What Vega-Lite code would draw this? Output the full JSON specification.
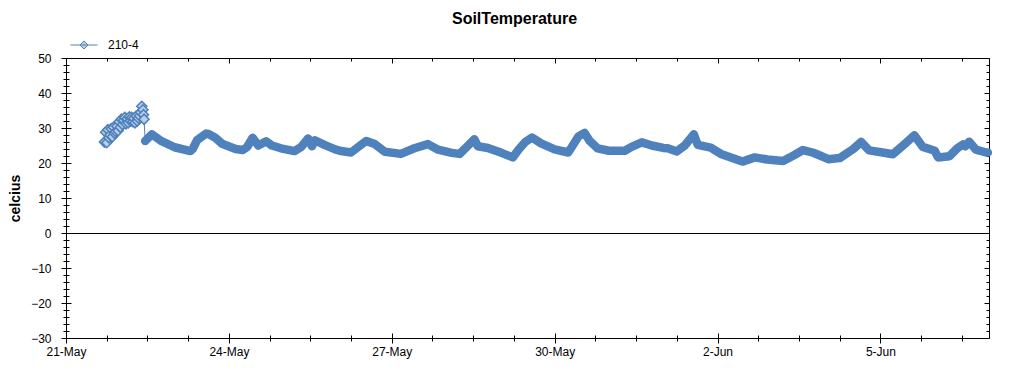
{
  "$schema": "https://vega.github.io/schema/vega-lite/v6.json",
  "width": 923,
  "height": 280,
  "autosize": {"type": "none"},
  "padding": {"left": 66, "top": 58, "right": 35, "bottom": 37},
  "background": "white",
  "title": {"text": "SoilTemperature", "font": "Liberation Sans", "fontSize": 16, "fontWeight": "bold", "color": "#000", "anchor": "middle", "frame": "group", "dx": -13, "offset": 4},
  "config": {
    "view": {"stroke": "#000", "strokeWidth": 1},
    "axis": {"labelFont": "Liberation Sans", "titleFont": "Liberation Sans", "labelColor": "#000", "tickColor": "#000", "titleColor": "#000", "grid": false, "domain": false, "title": null}
  },
  "data": {"values": [
    {"time": "2016-05-21T17:00", "temp": 26.0},
    {"time": "2016-05-21T17:30", "temp": 28.8},
    {"time": "2016-05-21T18:00", "temp": 25.8},
    {"time": "2016-05-21T18:30", "temp": 29.5},
    {"time": "2016-05-21T19:00", "temp": 27.2},
    {"time": "2016-05-21T19:30", "temp": 28.0},
    {"time": "2016-05-21T20:00", "temp": 29.8},
    {"time": "2016-05-21T20:30", "temp": 27.5},
    {"time": "2016-05-21T21:00", "temp": 30.2},
    {"time": "2016-05-21T21:30", "temp": 28.5},
    {"time": "2016-05-21T22:00", "temp": 29.0},
    {"time": "2016-05-21T22:30", "temp": 30.5},
    {"time": "2016-05-21T23:00", "temp": 29.2},
    {"time": "2016-05-21T23:30", "temp": 31.8},
    {"time": "2016-05-22T00:00", "temp": 30.2},
    {"time": "2016-05-22T00:30", "temp": 32.5},
    {"time": "2016-05-22T01:00", "temp": 31.0},
    {"time": "2016-05-22T01:30", "temp": 32.2},
    {"time": "2016-05-22T02:00", "temp": 33.0},
    {"time": "2016-05-22T02:30", "temp": 31.2},
    {"time": "2016-05-22T03:00", "temp": 32.6},
    {"time": "2016-05-22T03:30", "temp": 31.5},
    {"time": "2016-05-22T04:00", "temp": 33.2},
    {"time": "2016-05-22T04:30", "temp": 32.0},
    {"time": "2016-05-22T05:00", "temp": 33.0},
    {"time": "2016-05-22T05:30", "temp": 31.8},
    {"time": "2016-05-22T06:00", "temp": 32.8},
    {"time": "2016-05-22T06:30", "temp": 31.5},
    {"time": "2016-05-22T07:00", "temp": 33.4},
    {"time": "2016-05-22T07:30", "temp": 32.0},
    {"time": "2016-05-22T08:00", "temp": 32.8},
    {"time": "2016-05-22T08:30", "temp": 33.5},
    {"time": "2016-05-22T09:00", "temp": 34.5},
    {"time": "2016-05-22T09:30", "temp": 36.2},
    {"time": "2016-05-22T10:00", "temp": 35.2},
    {"time": "2016-05-22T10:15", "temp": 33.8},
    {"time": "2016-05-22T10:30", "temp": 32.5},
    {"time": "2016-05-22T11:00", "temp": 26.3},
    {"time": "2016-05-22T14:00", "temp": 28.2},
    {"time": "2016-05-22T18:00", "temp": 26.3},
    {"time": "2016-05-23T00:00", "temp": 24.5},
    {"time": "2016-05-23T07:00", "temp": 23.4},
    {"time": "2016-05-23T08:00", "temp": 24.0},
    {"time": "2016-05-23T10:00", "temp": 26.6},
    {"time": "2016-05-23T14:00", "temp": 28.4},
    {"time": "2016-05-23T15:00", "temp": 28.3},
    {"time": "2016-05-23T18:00", "temp": 27.2},
    {"time": "2016-05-23T21:00", "temp": 25.5},
    {"time": "2016-05-24T03:00", "temp": 24.0},
    {"time": "2016-05-24T06:00", "temp": 23.7},
    {"time": "2016-05-24T08:00", "temp": 24.5},
    {"time": "2016-05-24T10:30", "temp": 27.2},
    {"time": "2016-05-24T13:00", "temp": 25.0},
    {"time": "2016-05-24T16:30", "temp": 26.2},
    {"time": "2016-05-24T19:00", "temp": 25.0},
    {"time": "2016-05-24T23:00", "temp": 24.2},
    {"time": "2016-05-25T05:00", "temp": 23.4},
    {"time": "2016-05-25T08:00", "temp": 24.6},
    {"time": "2016-05-25T11:00", "temp": 27.0},
    {"time": "2016-05-25T12:45", "temp": 24.8},
    {"time": "2016-05-25T14:00", "temp": 26.5},
    {"time": "2016-05-25T18:30", "temp": 25.1},
    {"time": "2016-05-25T23:00", "temp": 23.9},
    {"time": "2016-05-26T01:00", "temp": 23.5},
    {"time": "2016-05-26T06:00", "temp": 23.0},
    {"time": "2016-05-26T09:00", "temp": 24.5},
    {"time": "2016-05-26T12:45", "temp": 26.3},
    {"time": "2016-05-26T16:30", "temp": 25.4},
    {"time": "2016-05-26T21:00", "temp": 23.2},
    {"time": "2016-05-27T04:00", "temp": 22.6},
    {"time": "2016-05-27T10:00", "temp": 24.2},
    {"time": "2016-05-27T16:00", "temp": 25.4},
    {"time": "2016-05-27T20:30", "temp": 23.8},
    {"time": "2016-05-28T02:30", "temp": 22.9},
    {"time": "2016-05-28T06:00", "temp": 22.6},
    {"time": "2016-05-28T09:00", "temp": 24.5},
    {"time": "2016-05-28T12:30", "temp": 26.8},
    {"time": "2016-05-28T14:00", "temp": 24.8},
    {"time": "2016-05-28T18:30", "temp": 24.3},
    {"time": "2016-05-29T00:30", "temp": 22.9},
    {"time": "2016-05-29T05:30", "temp": 21.6},
    {"time": "2016-05-29T08:00", "temp": 23.8},
    {"time": "2016-05-29T11:00", "temp": 26.0},
    {"time": "2016-05-29T14:00", "temp": 27.3},
    {"time": "2016-05-29T18:00", "temp": 25.6},
    {"time": "2016-05-30T00:00", "temp": 23.9},
    {"time": "2016-05-30T06:00", "temp": 23.0},
    {"time": "2016-05-30T07:30", "temp": 24.5},
    {"time": "2016-05-30T10:30", "temp": 27.6},
    {"time": "2016-05-30T13:15", "temp": 28.6},
    {"time": "2016-05-30T15:30", "temp": 26.3},
    {"time": "2016-05-30T19:00", "temp": 24.2},
    {"time": "2016-05-31T00:00", "temp": 23.5},
    {"time": "2016-05-31T07:00", "temp": 23.5},
    {"time": "2016-05-31T10:00", "temp": 24.6},
    {"time": "2016-05-31T14:30", "temp": 25.9},
    {"time": "2016-05-31T19:00", "temp": 25.0},
    {"time": "2016-06-01T00:00", "temp": 24.3},
    {"time": "2016-06-01T02:00", "temp": 24.2},
    {"time": "2016-06-01T06:00", "temp": 23.3},
    {"time": "2016-06-01T09:30", "temp": 25.0},
    {"time": "2016-06-01T13:30", "temp": 28.2},
    {"time": "2016-06-01T15:15", "temp": 25.2},
    {"time": "2016-06-01T21:00", "temp": 24.4},
    {"time": "2016-06-02T01:30", "temp": 22.6},
    {"time": "2016-06-02T07:30", "temp": 21.2},
    {"time": "2016-06-02T11:00", "temp": 20.4},
    {"time": "2016-06-02T16:30", "temp": 21.6},
    {"time": "2016-06-02T22:00", "temp": 21.0},
    {"time": "2016-06-03T05:00", "temp": 20.6},
    {"time": "2016-06-03T10:00", "temp": 22.3},
    {"time": "2016-06-03T13:45", "temp": 23.7},
    {"time": "2016-06-03T18:00", "temp": 23.0},
    {"time": "2016-06-03T21:00", "temp": 22.2},
    {"time": "2016-06-04T01:00", "temp": 21.1},
    {"time": "2016-06-04T06:00", "temp": 21.4},
    {"time": "2016-06-04T12:00", "temp": 24.0},
    {"time": "2016-06-04T15:30", "temp": 26.0},
    {"time": "2016-06-04T19:00", "temp": 23.6},
    {"time": "2016-06-05T01:00", "temp": 23.0},
    {"time": "2016-06-05T05:30", "temp": 22.5},
    {"time": "2016-06-05T10:00", "temp": 25.0},
    {"time": "2016-06-05T15:00", "temp": 27.9},
    {"time": "2016-06-05T18:45", "temp": 24.6},
    {"time": "2016-06-06T00:00", "temp": 23.5},
    {"time": "2016-06-06T01:30", "temp": 21.6},
    {"time": "2016-06-06T06:30", "temp": 21.9},
    {"time": "2016-06-06T10:00", "temp": 24.2},
    {"time": "2016-06-06T12:30", "temp": 25.3},
    {"time": "2016-06-06T13:30", "temp": 24.8},
    {"time": "2016-06-06T15:15", "temp": 26.1},
    {"time": "2016-06-06T18:15", "temp": 23.8},
    {"time": "2016-06-06T22:45", "temp": 23.0},
    {"time": "2016-06-06T23:30", "temp": 23.0}
  ]},
  "resolve": {"axis": {"x": "independent", "y": "independent"}},
  "layer": [
    {
      "mark": {"type": "rule", "color": "#000", "strokeWidth": 1, "yOffset": 0.5},
      "encoding": {
        "x": {"datum": {"year": 2016, "month": 5, "date": 21}, "type": "temporal",
          "scale": {"domain": [{"year": 2016, "month": 5, "date": 21}, {"year": 2016, "month": 6, "date": 7}]},
          "axis": {"orient": "bottom", "offset": -5, "tickSize": 10, "format": "%-d-%b", "labelPadding": 3, "labelFontSize": 12, "labelFlush": false, "labelOverlap": false,
            "values": [{"year": 2016, "month": 5, "date": 21}, {"year": 2016, "month": 5, "date": 24}, {"year": 2016, "month": 5, "date": 27}, {"year": 2016, "month": 5, "date": 30}, {"year": 2016, "month": 6, "date": 2}, {"year": 2016, "month": 6, "date": 5}]}},
        "x2": {"datum": {"year": 2016, "month": 6, "date": 7}},
        "y": {"datum": 0, "type": "quantitative",
          "scale": {"domain": [-30, 50], "nice": false, "zero": false},
          "axis": {"orient": "left", "offset": -5, "tickSize": 10, "labelPadding": 10, "labelFontSize": 12,
            "values": [-30, -20, -10, 0, 10, 20, 30, 40, 50],
            "title": "celcius", "titleFontSize": 14, "titleFontWeight": "bold", "titlePadding": 8}}
      }
    },
    {
      "mark": {"type": "line", "strokeWidth": 1},
      "encoding": {
        "x": {"field": "time", "type": "temporal",
          "scale": {"domain": [{"year": 2016, "month": 5, "date": 21}, {"year": 2016, "month": 6, "date": 7}]},
          "axis": {"orient": "bottom", "offset": -3, "tickSize": 6, "labels": false,
            "values": [{"year": 2016, "month": 5, "date": 21, "hours": 18}, {"year": 2016, "month": 5, "date": 22, "hours": 12}, {"year": 2016, "month": 5, "date": 23, "hours": 6}, {"year": 2016, "month": 5, "date": 24, "hours": 18}, {"year": 2016, "month": 5, "date": 25, "hours": 12}, {"year": 2016, "month": 5, "date": 26, "hours": 6}, {"year": 2016, "month": 5, "date": 27, "hours": 18}, {"year": 2016, "month": 5, "date": 28, "hours": 12}, {"year": 2016, "month": 5, "date": 29, "hours": 6}, {"year": 2016, "month": 5, "date": 30, "hours": 18}, {"year": 2016, "month": 5, "date": 31, "hours": 12}, {"year": 2016, "month": 6, "date": 1, "hours": 6}, {"year": 2016, "month": 6, "date": 2, "hours": 18}, {"year": 2016, "month": 6, "date": 3, "hours": 12}, {"year": 2016, "month": 6, "date": 4, "hours": 6}, {"year": 2016, "month": 6, "date": 5, "hours": 18}, {"year": 2016, "month": 6, "date": 6, "hours": 12}]}},
        "y": {"field": "temp", "type": "quantitative",
          "scale": {"domain": [-30, 50], "nice": false, "zero": false},
          "axis": {"orient": "left", "offset": -3, "tickSize": 6, "labels": false,
            "values": [-28, -26, -24, -22, -18, -16, -14, -12, -8, -6, -4, -2, 2, 4, 6, 8, 12, 14, 16, 18, 22, 24, 26, 28, 32, 34, 36, 38, 42, 44, 46, 48]}},
        "color": {"datum": "210-4", "type": "nominal",
          "scale": {"range": ["#4F81BD"]},
          "legend": {"orient": "none", "legendX": 4, "legendY": -27, "title": null,
            "symbolType": "M-1,0H1M0,-0.3L0.3,0L0,0.3L-0.3,0Z", "symbolSize": 729, "symbolStrokeWidth": 1, "symbolFillColor": "#B9CDE5",
            "labelFont": "Liberation Sans", "labelFontSize": 12, "labelColor": "#000", "labelOffset": 10}}
      }
    },
    {
      "transform": [{"filter": {"field": "time", "gte": {"year": 2016, "month": 5, "date": 22, "hours": 10, "minutes": 45}}}],
      "mark": {"type": "line", "strokeWidth": 8.5, "color": "#4F81BD", "strokeJoin": "round", "strokeCap": "round"},
      "encoding": {
        "x": {"field": "time", "type": "temporal",
          "scale": {"domain": [{"year": 2016, "month": 5, "date": 21}, {"year": 2016, "month": 6, "date": 7}]},
          "axis": {"orient": "top", "offset": -5, "tickSize": 5, "labels": false,
            "values": [{"year": 2016, "month": 5, "date": 21}, {"year": 2016, "month": 5, "date": 24}, {"year": 2016, "month": 5, "date": 27}, {"year": 2016, "month": 5, "date": 30}, {"year": 2016, "month": 6, "date": 2}, {"year": 2016, "month": 6, "date": 5}]}},
        "y": {"field": "temp", "type": "quantitative",
          "scale": {"domain": [-30, 50], "nice": false, "zero": false},
          "axis": {"orient": "right", "offset": -5, "tickSize": 5, "labels": false,
            "values": [-30, -20, -10, 0, 10, 20, 30, 40, 50]}}
      }
    },
    {
      "transform": [{"filter": {"field": "time", "lte": {"year": 2016, "month": 5, "date": 22, "hours": 10, "minutes": 35}}}],
      "mark": {"type": "point", "shape": "diamond", "size": 100, "filled": true, "fill": "#B9CDE5", "stroke": "#4F81BD", "strokeWidth": 1.6, "opacity": 1},
      "encoding": {
        "x": {"field": "time", "type": "temporal",
          "scale": {"domain": [{"year": 2016, "month": 5, "date": 21}, {"year": 2016, "month": 6, "date": 7}]},
          "axis": {"orient": "top", "offset": -3, "tickSize": 3, "labels": false,
            "values": [{"year": 2016, "month": 5, "date": 21, "hours": 18}, {"year": 2016, "month": 5, "date": 22, "hours": 12}, {"year": 2016, "month": 5, "date": 23, "hours": 6}, {"year": 2016, "month": 5, "date": 24, "hours": 18}, {"year": 2016, "month": 5, "date": 25, "hours": 12}, {"year": 2016, "month": 5, "date": 26, "hours": 6}, {"year": 2016, "month": 5, "date": 27, "hours": 18}, {"year": 2016, "month": 5, "date": 28, "hours": 12}, {"year": 2016, "month": 5, "date": 29, "hours": 6}, {"year": 2016, "month": 5, "date": 30, "hours": 18}, {"year": 2016, "month": 5, "date": 31, "hours": 12}, {"year": 2016, "month": 6, "date": 1, "hours": 6}, {"year": 2016, "month": 6, "date": 2, "hours": 18}, {"year": 2016, "month": 6, "date": 3, "hours": 12}, {"year": 2016, "month": 6, "date": 4, "hours": 6}, {"year": 2016, "month": 6, "date": 5, "hours": 18}, {"year": 2016, "month": 6, "date": 6, "hours": 12}]}},
        "y": {"field": "temp", "type": "quantitative",
          "scale": {"domain": [-30, 50], "nice": false, "zero": false},
          "axis": {"orient": "right", "offset": -3, "tickSize": 3, "labels": false,
            "values": [-28, -26, -24, -22, -18, -16, -14, -12, -8, -6, -4, -2, 2, 4, 6, 8, 12, 14, 16, 18, 22, 24, 26, 28, 32, 34, 36, 38, 42, 44, 46, 48]}}
      }
    }
  ]
}
